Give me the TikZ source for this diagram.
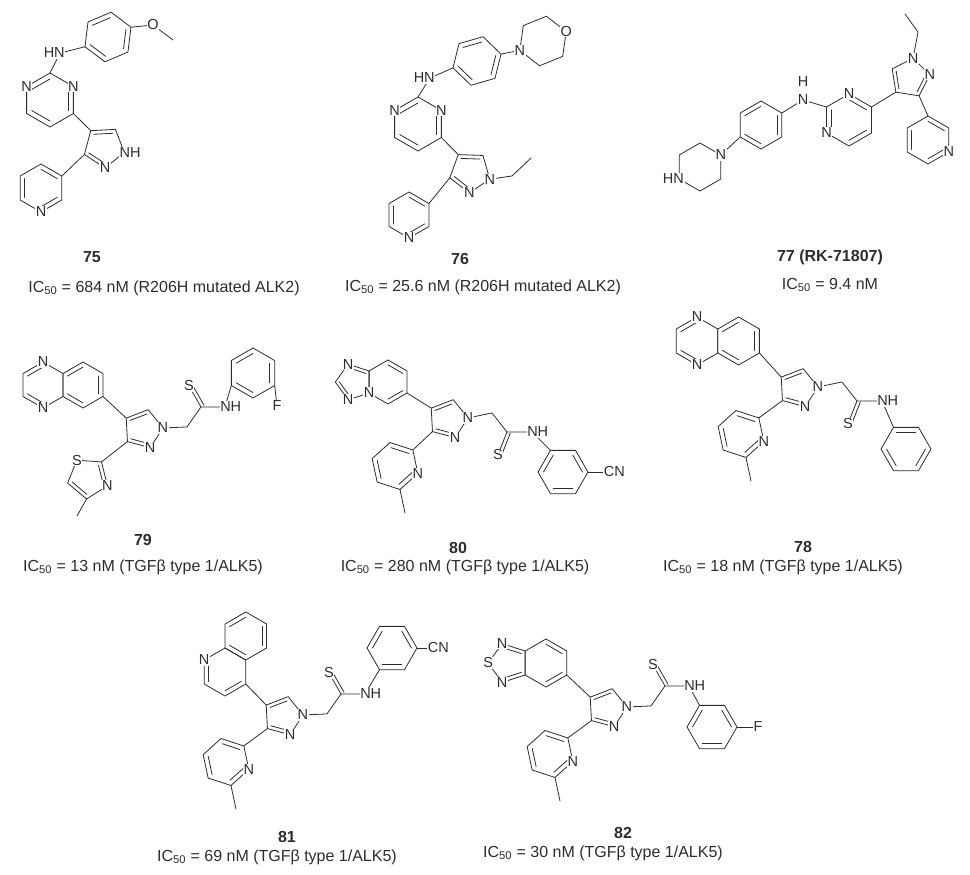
\documentclass[tikz,border=0pt]{standalone}
\usepackage{fontspec}
\setmainfont{Liberation Sans}
\usetikzlibrary{calc}
\definecolor{ink}{RGB}{45,45,45}
\pgfdeclarelayer{fg}
\pgfsetlayers{main,fg}
\tikzset{
  bond/.style={draw=ink,line width=0.8pt,line cap=round,line join=round},
  atom/.style={fill=white,inner sep=0.6pt,text=ink,font=\fontsize{14.5}{14.5}\selectfont},
  captext/.style={text=ink,font=\fontsize{16}{16}\selectfont,inner sep=0pt},
  num/.style={text=ink,font=\fontsize{16}{16}\selectfont\bfseries,inner sep=0pt}
}
\newcommand\hexr[5]{\coordinate (#1) at (#2,#3);
 \foreach \k in {1,...,6}{\coordinate (#1-\k) at ($(#1)+({#5+60*(\k-1)}:#4)$);}
 \draw[bond] (#1-1)--(#1-2)--(#1-3)--(#1-4)--(#1-5)--(#1-6)--cycle;}
\newcommand\pentr[5]{\coordinate (#1) at (#2,#3);
 \foreach \k in {1,...,5}{\coordinate (#1-\k) at ($(#1)+({#5+72*(\k-1)}:#4)$);}
 \draw[bond] (#1-1)--(#1-2)--(#1-3)--(#1-4)--(#1-5)--cycle;}
\newcommand\dbl[3]{\draw[bond] ($(#3)!0.78!(#1)$)--($(#3)!0.78!(#2)$);}
\newcommand\lab[3][]{\begin{pgfonlayer}{fg}\node[atom,#1] at (#2) {#3};\end{pgfonlayer}}
\newcommand\pyrcore[3]{\pentr{#1}{#2}{#3}{20}{213}\dbl{#1-1}{#1-2}{#1}\dbl{#1-5}{#1-4}{#1}\lab{#1-3}{N}\lab{#1-4}{N}}
\newcommand\mepyr[4]{\hexr{#1}{#2}{#3}{24}{318}
 \dbl{#1-1}{#1-6}{#1}\dbl{#1-4}{#1-5}{#1}\dbl{#1-2}{#1-3}{#1}
 \draw[bond] (#1-3)--($(#1)!2!(#1-3)$);
 \draw[bond] (#4-5)--(#1-1);
 \lab{#1-2}{N}}
\newcommand\thioup[2]{%
 \coordinate (#1ch) at ($(#1-3)+(24,-1)$); \coordinate (#1cs) at ($(#1-3)+(38,-21)$);
 \coordinate (#1s) at ($(#1-3)+(26,-42)$); \coordinate (#1nh) at ($(#1-3)+(62,-21)$);
 \draw[bond] (#1-3)--(#1ch)--(#1cs)--(#1nh)--(#2); \draw[bond] (#1cs)--(#1s);
 \draw[bond] ($(#1cs)!3.5pt!-90:(#1s)$)--($(#1s)!3.5pt!90:(#1cs)$);
 \lab{#1s}{S}\lab[anchor=west,xshift=-5.5pt]{#1nh}{NH}}
\newcommand\thiodown[2]{%
 \coordinate (#1ch) at ($(#1-3)+(24,-5)$); \coordinate (#1cs) at ($(#1-3)+(39,14)$);
 \coordinate (#1s) at ($(#1-3)+(30,37)$); \coordinate (#1nh) at ($(#1-3)+(64,14)$);
 \draw[bond] (#1-3)--(#1ch)--(#1cs)--(#1nh)--(#2); \draw[bond] (#1cs)--(#1s);
 \draw[bond] ($(#1cs)!3.5pt!90:(#1s)$)--($(#1s)!3.5pt!-90:(#1cs)$);
 \lab{#1s}{S}\lab[anchor=west,xshift=-5.5pt]{#1nh}{NH}}
\begin{document}
\begin{tikzpicture}[x=1pt,y=-1pt]
\useasboundingbox[fill=white] (0,0) rectangle (970,875);
% ===== 75 =====
\hexr{a}{108}{37}{25}{157}\dbl{a-2}{a-3}{a}\dbl{a-4}{a-5}{a}\dbl{a-6}{a-1}{a}
\coordinate (aO) at (153,25); \coordinate (aMe) at (173,40);
\draw[bond] (a-4)--(aO)--(aMe);
\coordinate (aN) at (60,53);
\hexr{b}{50}{100}{27}{-90}\dbl{b-6}{b-1}{b}\dbl{b-2}{b-3}{b}\dbl{b-4}{b-5}{b}
\draw[bond] (a-1)--(aN)--(b-1);
\pentr{c}{104}{147}{21}{231}\dbl{c-1}{c-2}{c}\dbl{c-5}{c-4}{c}
\draw[bond] (b-3)--(c-1);
\hexr{d}{41}{188}{24}{-90}\dbl{d-5}{d-6}{d}\dbl{d-1}{d-2}{d}\dbl{d-3}{d-4}{d}
\draw[bond] (c-5)--(d-2);
\lab{aO}{O}\lab[anchor=east,xshift=5.5pt]{aN}{HN}\lab{b-2}{N}\lab{b-6}{N}
\lab[anchor=west,xshift=-5.5pt]{c-3}{NH}\lab{c-4}{N}\lab{d-4}{N}
\node[num] (n75) at (92,257) {75};
\node[captext] (i75) at (164,288) {IC\textsubscript{50} = 684 nM (R206H mutated ALK2)};
% ===== 76 =====
\hexr{e}{477}{61}{25}{164}\dbl{e-2}{e-3}{e}\dbl{e-4}{e-5}{e}\dbl{e-6}{e-1}{e}
\coordinate (eN) at (430,78);
\hexr{m}{543}{41}{25}{158}
\draw[bond] (e-4)--(m-1);
\hexr{f}{418}{124}{27}{-90}\dbl{f-6}{f-1}{f}\dbl{f-2}{f-3}{f}\dbl{f-4}{f-5}{f}
\draw[bond] (e-1)--(eN)--(f-1);
\pentr{g}{470}{172}{21}{236}\dbl{g-1}{g-2}{g}\dbl{g-5}{g-4}{g}
\draw[bond] (f-3)--(g-1);
\coordinate (gE1) at (512,176); \coordinate (gE2) at (531,158);
\draw[bond] (g-3)--(gE1)--(gE2);
\hexr{h}{409}{215}{23}{-90}\dbl{h-5}{h-6}{h}\dbl{h-1}{h-2}{h}\dbl{h-3}{h-4}{h}
\draw[bond] (g-5)--(h-2);
\lab[anchor=east,xshift=5.5pt]{eN}{HN}\lab{m-1}{N}\lab{m-4}{O}\lab{f-2}{N}\lab{f-6}{N}
\lab{g-3}{N}\lab{g-4}{N}\lab{h-4}{N}
\node[num] (n76) at (460,259) {76};
\node[captext] (i76) at (483,287) {IC\textsubscript{50} = 25.6 nM (R206H mutated ALK2)};
% ===== 77 =====
\pentr{k}{910}{78}{20}{279}\dbl{k-4}{k-5}{k}\dbl{k-3}{k-2}{k}
\coordinate (kE1) at (918,32); \coordinate (kE2) at (905,14);
\draw[bond] (k-1)--(kE1)--(kE2);
\hexr{q}{849}{120}{26}{-90}\dbl{q-1}{q-2}{q}\dbl{q-3}{q-4}{q}\dbl{q-5}{q-6}{q}
\draw[bond] (q-2)--(k-4);
\coordinate (qN) at (803,100); \coordinate (qH) at (803,82);
\hexr{r}{761}{125}{24}{-90}\dbl{r-6}{r-1}{r}\dbl{r-2}{r-3}{r}\dbl{r-4}{r-5}{r}
\draw[bond] (q-6)--(qN)--(r-2);
\hexr{s}{700}{167}{24}{-30}
\draw[bond] (r-5)--(s-1);
\hexr{t}{928}{140}{24}{-90}\dbl{t-1}{t-2}{t}\dbl{t-3}{t-4}{t}\dbl{t-5}{t-6}{t}
\draw[bond] (k-3)--(t-1);
\lab{k-1}{N}\lab{k-2}{N}\lab{q-1}{N}\lab{q-5}{N}\lab{qN}{N}\lab{qH}{H}
\lab{s-1}{N}\lab[anchor=east,xshift=5.5pt]{s-4}{HN}\lab{t-3}{N}
\node[num] (n77) at (830,257) {77 (RK-71807)};
\node[captext] (i77) at (830,285) {IC\textsubscript{50} = 9.4 nM};
% ===== 79 =====
\pyrcore{p79}{143}{429}
\hexr{x79L}{43}{385}{23}{-90}\hexr{x79R}{83}{385}{23}{-90}
\dbl{x79L-6}{x79L-1}{x79L}\dbl{x79L-4}{x79L-5}{x79L}
\dbl{x79R-6}{x79R-1}{x79R}\dbl{x79R-2}{x79R-3}{x79R}\dbl{x79R-4}{x79R-5}{x79R}
\draw[bond] (x79R-3)--(p79-1);
\lab{x79L-1}{N}\lab{x79L-4}{N}
\pentr{tz}{88}{478}{21}{310}\dbl{tz-1}{tz-2}{tz}\dbl{tz-3}{tz-4}{tz}
\coordinate (tzMe) at (77,516);
\draw[bond] (tz-3)--(tzMe); \draw[bond] (p79-5)--(tz-1);
\lab{tz-2}{N}\lab{tz-5}{S}
\hexr{ar79}{253}{373}{25}{-90}\dbl{ar79-6}{ar79-1}{ar79}\dbl{ar79-2}{ar79-3}{ar79}\dbl{ar79-4}{ar79-5}{ar79}
\coordinate (f79) at (277,406); \draw[bond] (ar79-3)--(f79); \lab{f79}{F}
\thioup{p79}{ar79-5}
\node[num] (n79) at (143,540) {79};
\node[captext] (i79) at (143,567) {IC\textsubscript{50} = 13 nM (TGFβ type 1/ALK5)};
% ===== 80 =====
\pyrcore{p80}{448}{419}
\hexr{tp}{388}{382}{22}{-90}\pentr{tr}{354}{382}{18.7}{324}
\dbl{tp-1}{tp-2}{tp}\dbl{tp-3}{tp-4}{tp}\dbl{tr-5}{tr-1}{tr}\dbl{tr-3}{tr-4}{tr}
\draw[bond] (tp-3)--(p80-1);
\lab{tr-2}{N}\lab{tr-3}{N}\lab{tr-5}{N}
\mepyr{py80}{395}{466}{p80}
\hexr{ar80}{563}{472}{25}{0}\dbl{ar80-4}{ar80-5}{ar80}\dbl{ar80-6}{ar80-1}{ar80}\dbl{ar80-2}{ar80-3}{ar80}
\coordinate (cn80) at (606,472); \draw[bond] (ar80-1)--(cn80); \lab[anchor=west,xshift=-3pt]{cn80}{CN}
\thiodown{p80}{ar80-5}
\node[num] (n80) at (458,548) {80};
\node[captext] (i80) at (465,567) {IC\textsubscript{50} = 280 nM (TGFβ type 1/ALK5)};
% ===== 78 =====
\pyrcore{p78}{798}{388}
\hexr{x78L}{697}{341}{24}{-90}\hexr{x78R}{738.6}{341}{24}{-90}
\dbl{x78L-6}{x78L-1}{x78L}\dbl{x78L-4}{x78L-5}{x78L}
\dbl{x78R-6}{x78R-1}{x78R}\dbl{x78R-2}{x78R-3}{x78R}\dbl{x78R-4}{x78R-5}{x78R}
\draw[bond] (x78R-3)--(p78-1);
\lab{x78L-1}{N}\lab{x78L-4}{N}
\mepyr{py78}{741}{434}{p78}
\hexr{ar78}{906}{449}{25}{0}\dbl{ar78-1}{ar78-2}{ar78}\dbl{ar78-3}{ar78-4}{ar78}\dbl{ar78-5}{ar78-6}{ar78}
\thiodown{p78}{ar78-5}
\node[num] (n78) at (803,547) {78};
\node[captext] (i78) at (783,567) {IC\textsubscript{50} = 18 nM (TGFβ type 1/ALK5)};
% ===== 81 =====
\pyrcore{p81}{283}{716}
\hexr{qp}{225}{672}{24}{-90}\hexr{qb}{245.8}{636}{24}{-90}
\dbl{qb-6}{qb-1}{qb}\dbl{qb-2}{qb-3}{qb}\dbl{qb-4}{qb-5}{qb}
\dbl{qp-5}{qp-6}{qp}\dbl{qp-3}{qp-4}{qp}
\draw[bond] (qp-3)--(p81-1);
\lab{qp-6}{N}
\mepyr{py81}{226}{762}{p81}
\hexr{ar81}{392}{648}{25}{0}\dbl{ar81-4}{ar81-5}{ar81}\dbl{ar81-6}{ar81-1}{ar81}\dbl{ar81-2}{ar81-3}{ar81}
\coordinate (cn81) at (430,648); \draw[bond] (ar81-1)--(cn81); \lab[anchor=west,xshift=-3pt]{cn81}{CN}
\thioup{p81}{ar81-3}
\node[num] (n81) at (287,837) {81};
\node[captext] (i81) at (277,857) {IC\textsubscript{50} = 69 nM (TGFβ type 1/ALK5)};
% ===== 82 =====
\pyrcore{p82}{607}{708}
\hexr{bt}{546}{663}{24}{-90}\pentr{td}{508.5}{663}{20.4}{324}
\dbl{td-5}{td-1}{td}\dbl{td-2}{td-3}{td}\dbl{bt-1}{bt-2}{bt}\dbl{bt-3}{bt-4}{bt}
\draw[bond] (bt-3)--(p82-1);
\lab{td-3}{N}\lab{td-4}{S}\lab{td-5}{N}
\mepyr{py82}{550}{754}{p82}
\hexr{ar82}{712}{727}{25}{0}\dbl{ar82-4}{ar82-5}{ar82}\dbl{ar82-6}{ar82-1}{ar82}\dbl{ar82-2}{ar82-3}{ar82}
\coordinate (f82) at (758,727); \draw[bond] (ar82-1)--(f82); \lab{f82}{F}
\thioup{p82}{ar82-5}
\node[num] (n82) at (623,833) {82};
\node[captext] (i82) at (603,853) {IC\textsubscript{50} = 30 nM (TGFβ type 1/ALK5)};
\end{tikzpicture}
\end{document}
